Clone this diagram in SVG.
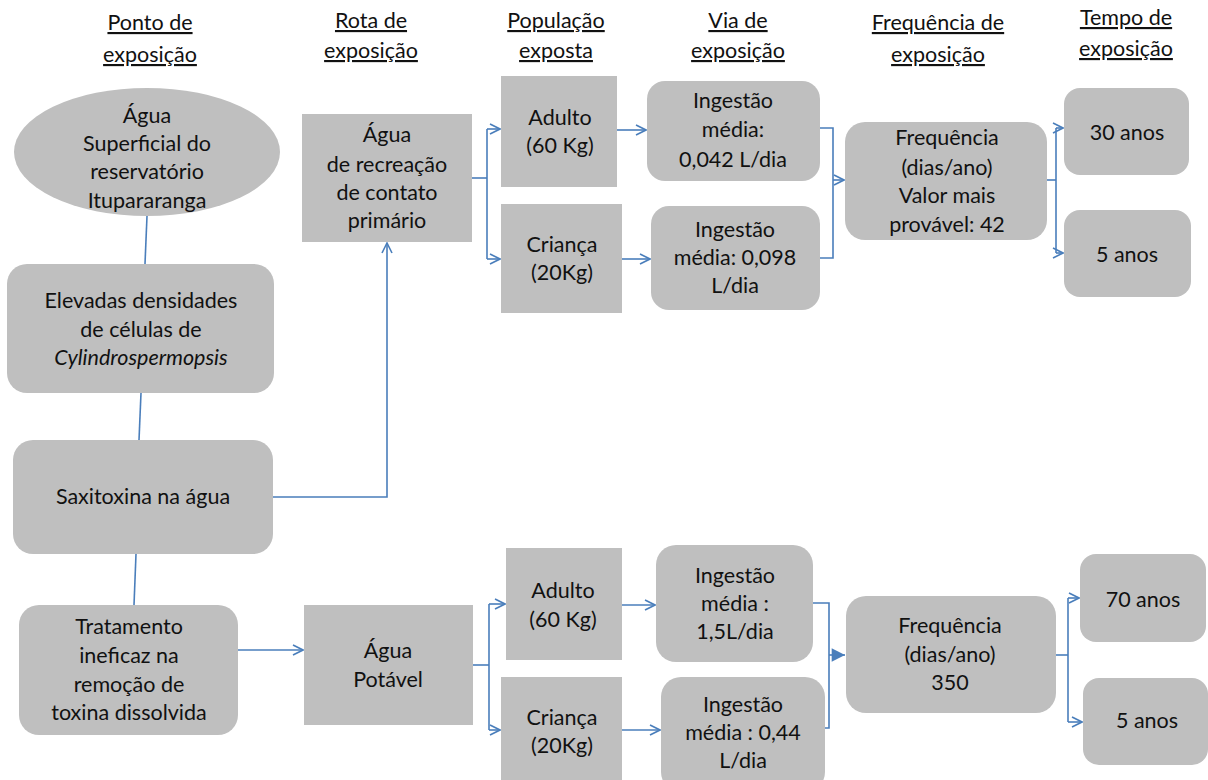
<svg xmlns="http://www.w3.org/2000/svg" width="1208" height="780" viewBox="0 0 1208 780">
<style>
.n{fill:#bfbfbf;stroke:none}
text{font-family:Lato,"Open Sans","Liberation Sans",sans-serif;font-size:21.5px;fill:#111;text-anchor:middle}
.h{text-decoration:underline}
.c{fill:none;stroke:#4a7ebb;stroke-width:1.6}
</style>
<defs>
<marker id="a" viewBox="0 0 12 12" refX="11" refY="6" markerWidth="12" markerHeight="12" markerUnits="userSpaceOnUse" orient="auto"><path d="M1,1 L11,6 L1,11" fill="none" stroke="#4a7ebb" stroke-width="1.6"/></marker>
<marker id="f" viewBox="0 0 12 12" refX="11" refY="6" markerWidth="16" markerHeight="16" markerUnits="userSpaceOnUse" orient="auto"><path d="M1,1 L11,6 L1,11 Z" fill="#4a7ebb"/></marker>
</defs>
<rect width="1208" height="780" fill="#fff"/>
<g id="headers">
<text class="h" x="150" y="30">Ponto de</text><text class="h" x="150" y="62">exposição</text>
<text class="h" x="371" y="28">Rota de</text><text class="h" x="371" y="58">exposição</text>
<text class="h" x="556" y="28">População</text><text class="h" x="556" y="58">exposta</text>
<text class="h" x="738" y="28">Via de</text><text class="h" x="738" y="58">exposição</text>
<text class="h" x="938" y="30">Frequência de</text><text class="h" x="938" y="62">exposição</text>
<text class="h" x="1126" y="25">Tempo de</text><text class="h" x="1126" y="56">exposição</text>
</g>
<g id="connectors">
<path class="c" d="M147,216 L145,264"/>
<path class="c" d="M141,393 L139,440"/>
<path class="c" d="M136,554 L134,605"/>
<path class="c" d="M273,497 H387 V243" marker-end="url(#a)"/>
<path class="c" d="M238,650 H303" marker-end="url(#a)"/>
<path class="c" d="M472,178 H487"/>
<path class="c" d="M487,129 V259"/>
<path class="c" d="M487,129 H500" marker-end="url(#a)"/>
<path class="c" d="M487,259 H500" marker-end="url(#a)"/>
<path class="c" d="M617,130 H646" marker-end="url(#a)"/>
<path class="c" d="M622,259 H650" marker-end="url(#a)"/>
<path class="c" d="M820,128 H833 V258 H820"/>
<path class="c" d="M833,180 H844" marker-end="url(#a)"/>
<path class="c" d="M1047,180 H1056"/>
<path class="c" d="M1056,128 V253"/>
<path class="c" d="M1056,128 H1063" marker-end="url(#a)"/>
<path class="c" d="M1056,253 H1063" marker-end="url(#a)"/>
<path class="c" d="M473,665 H489"/>
<path class="c" d="M489,604 V730"/>
<path class="c" d="M489,604 H505" marker-end="url(#a)"/>
<path class="c" d="M489,730 H500" marker-end="url(#a)"/>
<path class="c" d="M622,605 H655" marker-end="url(#a)"/>
<path class="c" d="M622,730 H660" marker-end="url(#a)"/>
<path class="c" d="M813,603 H829 V728 H825"/>
<path class="c" d="M829,655 H845" marker-end="url(#f)"/>
<path class="c" d="M1056,655 H1068"/>
<path class="c" d="M1068,598 V722"/>
<path class="c" d="M1068,598 H1079" marker-end="url(#a)"/>
<path class="c" d="M1068,722 H1082" marker-end="url(#a)"/>
</g>
<g id="agua-superficial">
<ellipse class="n" cx="147" cy="152" rx="133" ry="64"/>
<text x="147" y="123">Água</text><text x="147" y="151">Superficial do</text><text x="147" y="179">reservatório</text><text x="147" y="208">Itupararanga</text>
</g>
<g id="elevadas">
<rect class="n" x="7" y="264" width="267" height="129" rx="20"/>
<text x="141" y="308">Elevadas densidades</text><text x="141" y="337">de células  de</text><text x="141" y="365" font-style="italic">Cylindrospermopsis</text>
</g>
<g id="saxitoxina">
<rect class="n" x="13" y="440" width="260" height="114" rx="20"/>
<text x="143" y="504">Saxitoxina na água</text>
</g>
<g id="tratamento">
<rect class="n" x="19" y="605" width="219" height="130" rx="20"/>
<text x="129" y="634">Tratamento</text><text x="129" y="663">ineficaz na</text><text x="129" y="692">remoção de</text><text x="129" y="720">toxina dissolvida</text>
</g>
<g id="agua-recreacao">
<rect class="n" x="302" y="114" width="170" height="128"/>
<text x="387" y="142">Água</text><text x="387" y="172">de recreação</text><text x="387" y="200">de contato</text><text x="387" y="228">primário</text>
</g>
<g id="agua-potavel">
<rect class="n" x="304" y="605" width="169" height="120"/>
<text x="388" y="658">Água</text><text x="388" y="687">Potável</text>
</g>
<g id="adulto-1">
<rect class="n" x="501" y="76" width="116" height="111"/>
<text x="560" y="125">Adulto</text><text x="560" y="153">(60 Kg)</text>
</g>
<g id="crianca-1">
<rect class="n" x="501" y="204" width="121" height="109"/>
<text x="562" y="252">Criança</text><text x="562" y="280">(20Kg)</text>
</g>
<g id="ingestao-1">
<rect class="n" x="647" y="81" width="173" height="100" rx="18"/>
<text x="733" y="108">Ingestão</text><text x="733" y="137">média:</text><text x="733" y="167">0,042 L/dia</text>
</g>
<g id="ingestao-2">
<rect class="n" x="651" y="206" width="169" height="104" rx="18"/>
<text x="735" y="237">Ingestão</text><text x="735" y="265">média: 0,098</text><text x="735" y="293">L/dia</text>
</g>
<g id="frequencia-1">
<rect class="n" x="845" y="122" width="202" height="118" rx="20"/>
<text x="947" y="145">Frequência</text><text x="947" y="175">(dias/ano)</text><text x="947" y="203">Valor mais</text><text x="947" y="232">provável: 42</text>
</g>
<g id="anos-30">
<rect class="n" x="1064" y="88" width="125" height="87" rx="16"/>
<text x="1127" y="140">30 anos</text>
</g>
<g id="anos-5a">
<rect class="n" x="1064" y="210" width="127" height="87" rx="16"/>
<text x="1127" y="262">5 anos</text>
</g>
<g id="adulto-2">
<rect class="n" x="506" y="548" width="116" height="112"/>
<text x="563" y="598">Adulto</text><text x="563" y="627">(60 Kg)</text>
</g>
<g id="crianca-2">
<rect class="n" x="501" y="677" width="121" height="110"/>
<text x="562" y="725">Criança</text><text x="562" y="753">(20Kg)</text>
</g>
<g id="ingestao-3">
<rect class="n" x="656" y="545" width="157" height="117" rx="20"/>
<text x="735" y="583">Ingestão</text><text x="735" y="611">média :</text><text x="735" y="639">1,5L/dia</text>
</g>
<g id="ingestao-4">
<rect class="n" x="661" y="677" width="164" height="115" rx="20"/>
<text x="743" y="712">Ingestão</text><text x="743" y="740">média : 0,44</text><text x="743" y="768">L/dia</text>
</g>
<g id="frequencia-2">
<rect class="n" x="846" y="596" width="210" height="117" rx="20"/>
<text x="950" y="633">Frequência</text><text x="950" y="662">(dias/ano)</text><text x="950" y="690">350</text>
</g>
<g id="anos-70">
<rect class="n" x="1080" y="554" width="126" height="88" rx="16"/>
<text x="1143" y="607">70 anos</text>
</g>
<g id="anos-5b">
<rect class="n" x="1083" y="678" width="125" height="87" rx="16"/>
<text x="1147" y="728">5 anos</text>
</g>
</svg>
